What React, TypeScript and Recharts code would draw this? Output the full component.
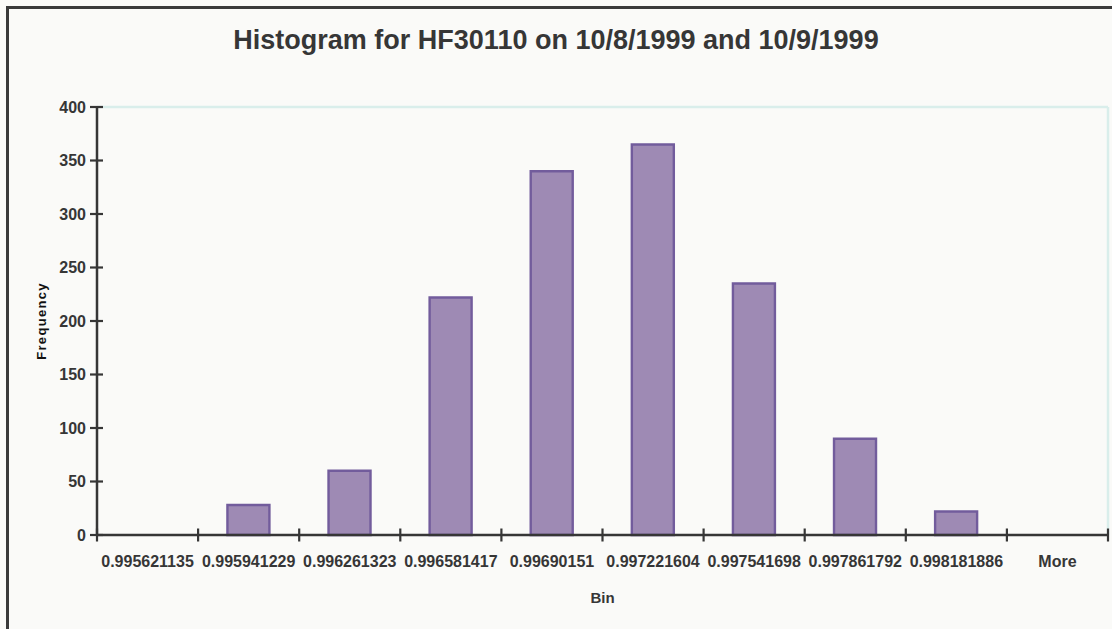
import React from 'react';
import { BarChart, Bar, XAxis, YAxis, ReferenceLine, Label } from 'recharts';

const bins = [
  '0.995621135',
  '0.995941229',
  '0.996261323',
  '0.996581417',
  '0.99690151',
  '0.997221604',
  '0.997541698',
  '0.997861792',
  '0.998181886',
  'More',
];
const frequency = [0, 28, 60, 222, 340, 365, 235, 90, 22, 0];
const yTicks = [0, 50, 100, 150, 200, 250, 300, 350, 400];
const binEdges = [0, 1, 2, 3, 4, 5, 6, 7, 8, 9, 10];

const data = bins.map((bin, i) => ({ bin, frequency: frequency[i], edge: i }));

const FONT = '"Liberation Sans", Arial, Helvetica, sans-serif';
const INK = '#363636';
const FRAME = '#d9eeeb';

const EdgeTick = (props: any) => {
  const { x, y } = props;
  return <line x1={x} x2={x} y1={y - 6.5} y2={y + 6.5} stroke={INK} strokeWidth={2.2} />;
};

const BinTick = (props: any) => {
  const { x, y, payload } = props;
  return (
    <text
      x={x}
      y={y + 31}
      textAnchor="middle"
      fontSize={16}
      fontWeight={700}
      fontFamily={FONT}
      fill={INK}
    >
      {payload.value}
    </text>
  );
};

const YTick = (props: any) => {
  const { x, y, payload } = props;
  return (
    <g>
      <line x1={x - 7} x2={x + 6} y1={y} y2={y} stroke={INK} strokeWidth={2.2} />
      <text
        x={x - 11}
        y={y + 5.7}
        textAnchor="end"
        fontSize={16}
        fontWeight={700}
        fontFamily={FONT}
        fill={INK}
      >
        {payload.value}
      </text>
    </g>
  );
};

const YTitle = (props: any) => {
  const vb = props.viewBox || {};
  const cx = (vb.x || 0) + 41;
  const cy = (vb.y || 0) + (vb.height || 0) / 2;
  return (
    <text
      x={cx}
      y={cy}
      transform={`rotate(-90, ${cx}, ${cy})`}
      textAnchor="middle"
      dominantBaseline="central"
      fontSize={13}
      fontWeight={700}
      letterSpacing={1.3}
      fontFamily={FONT}
      fill="#111"
    >
      Frequency
    </text>
  );
};

export default function App() {
  return (
    <div
      style={{
        position: 'absolute',
        left: 0,
        top: 0,
        width: 1112,
        height: 629,
        overflow: 'hidden',
        background: '#fafaf8',
        fontFamily: FONT,
      }}
    >
      <div
        style={{
          position: 'absolute',
          left: 6,
          top: 6,
          width: 1300,
          height: 800,
          border: '3px solid #3a3a3a',
          boxSizing: 'border-box',
        }}
      />
      <div
        style={{
          position: 'absolute',
          left: 0,
          top: 27,
          width: 1112,
          textAlign: 'center',
          fontSize: 27,
          lineHeight: '27px',
          fontWeight: 700,
          color: INK,
          whiteSpace: 'nowrap',
        }}
      >
        Histogram for HF30110 on 10/8/1999 and 10/9/1999
      </div>
      <div style={{ position: 'absolute', left: 0, top: 0 }}>
        <BarChart
          width={1112}
          height={629}
          data={data}
          margin={{ top: 107, right: 4, left: 0, bottom: 0 }}
          barCategoryGap="29%"
        >
          <XAxis
            xAxisId="b"
            dataKey="bin"
            type="category"
            height={93}
            tickSize={0}
            tickMargin={0}
            interval={0}
            tick={<BinTick />}
            tickLine={false}
            axisLine={false}
          >
            <Label
              value="Bin"
              position="insideBottom"
              offset={26}
              fontSize={15}
              fontWeight={700}
              fontFamily={FONT}
              fill={INK}
            />
          </XAxis>
          <XAxis
            xAxisId="a"
            dataKey="edge"
            type="number"
            domain={[0, 10]}
            ticks={binEdges}
            allowDataOverflow
            height={1}
            tickSize={0}
            tickMargin={0}
            interval={0}
            tick={<EdgeTick />}
            tickLine={false}
            axisLine={{ stroke: INK, strokeWidth: 2.5 }}
          />
          <YAxis
            domain={[0, 400]}
            ticks={yTicks}
            width={97}
            tickSize={0}
            tickMargin={0}
            interval={0}
            tick={<YTick />}
            tickLine={false}
            axisLine={{ stroke: INK, strokeWidth: 2.5 }}
            label={<YTitle />}
          />
          <ReferenceLine y={400} stroke={FRAME} strokeWidth={2.5} />
          <ReferenceLine x={10} xAxisId="a" stroke={FRAME} strokeWidth={2.5} />
          <Bar
            xAxisId="b"
            dataKey="frequency"
            fill="#9e8ab4"
            stroke="#725c9c"
            strokeWidth={2.4}
            isAnimationActive={false}
          />
        </BarChart>
      </div>
    </div>
  );
}
